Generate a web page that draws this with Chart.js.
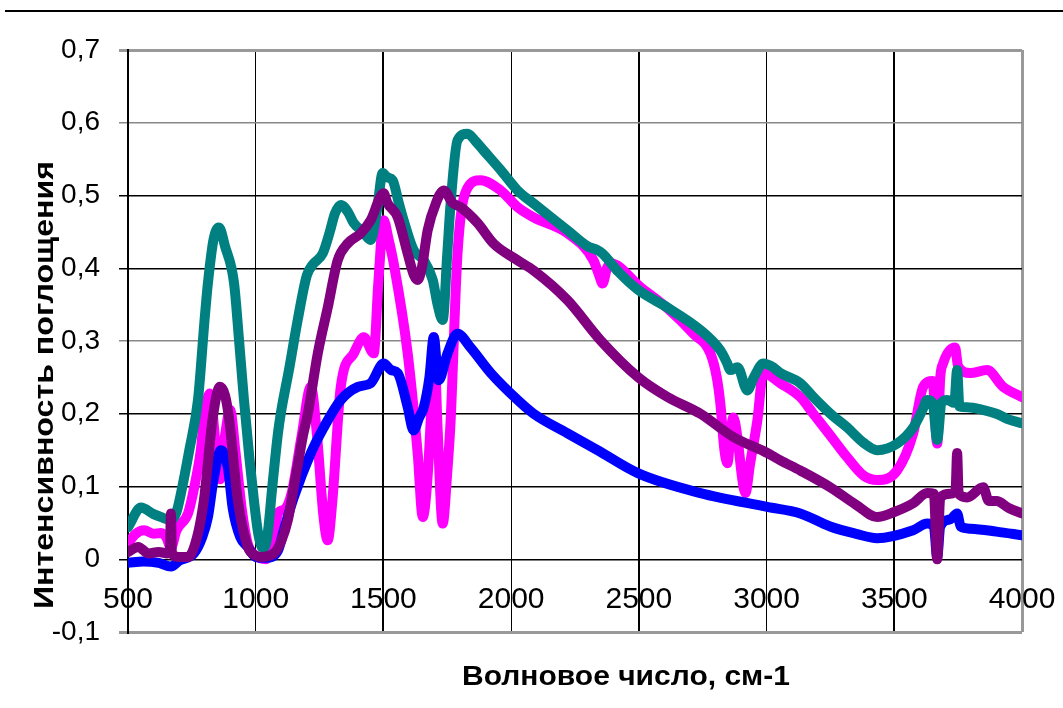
<!DOCTYPE html>
<html>
<head>
<meta charset="utf-8">
<script src="https://cdn.jsdelivr.net/npm/chart.js@4.4.0/dist/chart.umd.min.js"></script>
<style>
    html, body { margin: 0; padding: 0; background: #fff; }
    canvas { display: block; }
</style>
</head>
<body>
<canvas id="irChart" width="1063" height="708"></canvas>
<script>
// IR spectra - absorption intensity vs wavenumber

const xTickLabels = ['500', '1000', '1500', '2000', '2500', '3000', '3500', '4000'];
const yTickValues = [-0.1, 0, 0.1, 0.2, 0.3, 0.4, 0.5, 0.6, 0.7];
const xTitle = 'Волновое число, см-1';
const yTitle = 'Интенсивность поглощения';

const tealWave = [500, 551, 600, 629, 668, 690, 707, 740, 774, 800, 813, 835, 856, 880, 915, 935, 954, 975, 993, 1010, 1028, 1045, 1065, 1087, 1098, 1130, 1165, 1200, 1223, 1262, 1290, 1310, 1333, 1360, 1384, 1420, 1450, 1475, 1497, 1515, 1536, 1560, 1579, 1618, 1658, 1693, 1712, 1732, 1750, 1763, 1790, 1830, 1860, 1892, 1959, 2025, 2088, 2221, 2300, 2338, 2358, 2420, 2498, 2612, 2741, 2819, 2845, 2858, 2886, 2925, 2950, 2987, 3020, 3054, 3132, 3183, 3250, 3316, 3380, 3433, 3511, 3574, 3610, 3629, 3650, 3668, 3685, 3707, 3735, 3746, 3755, 3785, 3850, 3900, 3950, 4000];
const tealAbs = [0.044, 0.071, 0.062, 0.058, 0.054, 0.065, 0.09, 0.15, 0.219, 0.33, 0.38, 0.44, 0.456, 0.43, 0.38, 0.30, 0.219, 0.14, 0.081, 0.035, 0.015, 0.03, 0.10, 0.173, 0.20, 0.26, 0.33, 0.39, 0.405, 0.42, 0.45, 0.475, 0.487, 0.478, 0.462, 0.45, 0.439, 0.48, 0.531, 0.525, 0.521, 0.49, 0.466, 0.425, 0.411, 0.384, 0.35, 0.329, 0.42, 0.489, 0.576, 0.585, 0.575, 0.562, 0.535, 0.507, 0.489, 0.452, 0.43, 0.425, 0.42, 0.395, 0.37, 0.346, 0.315, 0.287, 0.27, 0.26, 0.264, 0.232, 0.25, 0.269, 0.265, 0.256, 0.242, 0.223, 0.20, 0.181, 0.16, 0.15, 0.159, 0.181, 0.205, 0.219, 0.215, 0.164, 0.215, 0.219, 0.215, 0.26, 0.21, 0.209, 0.205, 0.20, 0.192, 0.187];

const magentaWave = [500, 530, 563, 600, 629, 650, 668, 690, 735, 760, 785, 800, 820, 845, 860, 880, 900, 920, 945, 970, 1000, 1040, 1070, 1090, 1110, 1140, 1180, 1216, 1240, 1265, 1282, 1300, 1333, 1384, 1423, 1462, 1480, 1501, 1520, 1540, 1595, 1634, 1654, 1670, 1685, 1697, 1712, 1732, 1750, 1763, 1790, 1830, 1880, 1959, 2025, 2088, 2221, 2322, 2345, 2358, 2375, 2389, 2506, 2612, 2714, 2780, 2805, 2819, 2835, 2847, 2858, 2870, 2885, 2905, 2917, 2935, 2964, 2987, 3054, 3132, 3183, 3250, 3316, 3380, 3433, 3511, 3574, 3613, 3650, 3668, 3680, 3691, 3738, 3750, 3797, 3863, 3926, 4000];
const magentaAbs = [0.022, 0.035, 0.04, 0.035, 0.036, 0.03, 0.016, 0.04, 0.063, 0.10, 0.15, 0.20, 0.228, 0.15, 0.11, 0.17, 0.205, 0.15, 0.07, 0.02, 0.005, 0.0, 0.03, 0.065, 0.068, 0.09, 0.17, 0.237, 0.17, 0.06, 0.026, 0.08, 0.237, 0.283, 0.305, 0.283, 0.38, 0.466, 0.44, 0.407, 0.283, 0.146, 0.058, 0.10, 0.191, 0.305, 0.18, 0.049, 0.12, 0.19, 0.42, 0.511, 0.521, 0.507, 0.484, 0.47, 0.448, 0.411, 0.39, 0.379, 0.40, 0.407, 0.374, 0.345, 0.31, 0.283, 0.25, 0.214, 0.15, 0.132, 0.17, 0.195, 0.17, 0.11, 0.091, 0.13, 0.191, 0.256, 0.242, 0.223, 0.20, 0.17, 0.14, 0.115, 0.109, 0.122, 0.173, 0.237, 0.245, 0.159, 0.25, 0.269, 0.291, 0.265, 0.256, 0.26, 0.237, 0.223];

const purpleWave = [500, 540, 580, 620, 653, 664, 668, 672, 700, 735, 770, 797, 832, 860, 880, 895, 930, 969, 1000, 1020, 1071, 1100, 1126, 1149, 1165, 1185, 1204, 1243, 1282, 1321, 1360, 1411, 1450, 1501, 1515, 1556, 1595, 1620, 1634, 1650, 1673, 1705, 1736, 1770, 1802, 1869, 1931, 2025, 2088, 2221, 2350, 2498, 2612, 2741, 2870, 3003, 3054, 3132, 3249, 3350, 3433, 3500, 3574, 3629, 3655, 3668, 3680, 3720, 3740, 3746, 3752, 3785, 3848, 3870, 3900, 3950, 4000];
const purpleAbs = [0.01, 0.017, 0.008, 0.01, 0.008, 0.01, 0.063, 0.008, 0.003, 0.003, 0.03, 0.081, 0.195, 0.237, 0.225, 0.195, 0.081, 0.017, 0.005, 0.003, 0.008, 0.025, 0.054, 0.099, 0.13, 0.17, 0.20, 0.283, 0.346, 0.411, 0.434, 0.448, 0.466, 0.503, 0.49, 0.47, 0.42, 0.39, 0.384, 0.40, 0.452, 0.489, 0.507, 0.49, 0.484, 0.462, 0.434, 0.411, 0.397, 0.356, 0.301, 0.25, 0.223, 0.20, 0.168, 0.146, 0.136, 0.122, 0.099, 0.075, 0.058, 0.065, 0.077, 0.091, 0.09, 0.0, 0.085, 0.09, 0.095, 0.146, 0.09, 0.085, 0.099, 0.08, 0.08, 0.07, 0.063];

const blueWave = [500, 560, 620, 668, 700, 758, 790, 813, 835, 864, 891, 910, 940, 969, 1000, 1040, 1087, 1110, 1149, 1216, 1266, 1333, 1400, 1450, 1501, 1530, 1556, 1595, 1618, 1640, 1658, 1680, 1697, 1716, 1751, 1790, 1841, 1920, 2025, 2088, 2221, 2338, 2498, 2741, 3003, 3132, 3249, 3350, 3433, 3574, 3629, 3655, 3668, 3680, 3720, 3746, 3760, 3800, 3900, 4000];
const blueAbs = [-0.005, -0.003, -0.005, -0.01, -0.002, 0.008, 0.03, 0.058, 0.11, 0.15, 0.126, 0.07, 0.03, 0.017, 0.003, 0.002, 0.012, 0.04, 0.085, 0.146, 0.181, 0.219, 0.237, 0.242, 0.269, 0.26, 0.256, 0.209, 0.177, 0.195, 0.209, 0.25, 0.305, 0.246, 0.283, 0.31, 0.291, 0.256, 0.219, 0.20, 0.173, 0.15, 0.118, 0.091, 0.072, 0.063, 0.045, 0.035, 0.029, 0.04, 0.049, 0.045, 0.003, 0.045, 0.055, 0.063, 0.045, 0.042, 0.038, 0.033];

function toPoints(wave, abs) {
    return wave.map((w, i) => ({ x: w, y: abs[i] }));
}

function seriesStyle(color) {
    return {
        borderColor: color,
        backgroundColor: color,
        borderWidth: 10,
        pointRadius: 0,
        fill: false,
        cubicInterpolationMode: 'monotone',
        borderJoinStyle: 'round',
        borderCapStyle: 'round'
    };
}

function fmt(v) {
    const r = Math.round(v * 10) / 10;
    if (r === 0) return '0';
    return r.toFixed(1).replace('.', ',');
}

// titles, x labels on the zero line and the page rule at the top
const overlay = {
    id: 'overlay',
    afterDraw(chart) {
        const ctx = chart.ctx;
        const xs = chart.scales.x;
        const ys = chart.scales.y;
        ctx.save();

        ctx.strokeStyle = '#000';
        ctx.lineWidth = 2;
        ctx.beginPath();
        ctx.moveTo(5, 11);
        ctx.lineTo(1063, 11);
        ctx.stroke();

        const zeroY = ys.getPixelForValue(0);
        ctx.fillStyle = '#000';
        ctx.font = '30px "Liberation Sans", Arial, sans-serif';
        ctx.textAlign = 'center';
        ctx.textBaseline = 'top';
        xTickLabels.forEach(lbl => {
            ctx.fillText(lbl, xs.getPixelForValue(Number(lbl)), zeroY + 25);
        });

        ctx.font = 'bold 27px "Liberation Sans", Arial, sans-serif';
        ctx.textBaseline = 'middle';
        let w = ctx.measureText(xTitle).width;
        ctx.save();
        ctx.translate(626, 678);
        ctx.scale(328 / w, 1);
        ctx.fillText(xTitle, 0, 0);
        ctx.restore();

        w = ctx.measureText(yTitle).width;
        ctx.save();
        ctx.translate(46, 385);
        ctx.rotate(-Math.PI / 2);
        ctx.scale(448 / w, 1);
        ctx.fillText(yTitle, 0, 0);
        ctx.restore();

        ctx.restore();
    }
};

const ctx = document.getElementById('irChart');

new Chart(ctx, {
    type: 'line',
    data: {
        datasets: [
            Object.assign({ label: 'purple', data: toPoints(purpleWave, purpleAbs) }, seriesStyle('#800080')),
            Object.assign({ label: 'teal', data: toPoints(tealWave, tealAbs) }, seriesStyle('#008080')),
            Object.assign({ label: 'blue', data: toPoints(blueWave, blueAbs) }, seriesStyle('#0000ff')),
            Object.assign({ label: 'magenta', data: toPoints(magentaWave, magentaAbs) }, seriesStyle('#ff00ff'))
        ]
    },
    options: {
        responsive: false,
        animation: false,
        devicePixelRatio: 1,
        layout: {
            padding: { left: 0, right: 41, top: 50, bottom: 76 }
        },
        plugins: {
            legend: { display: false },
            tooltip: { enabled: false }
        },
        scales: {
            x: {
                type: 'linear',
                min: 500,
                max: 4000,
                ticks: { display: false, stepSize: 500 },
                border: { display: false },
                grid: {
                    drawTicks: false,
                    color: c => c.tick.value === 4000 ? '#999' : '#000',
                    lineWidth: c => {
                        const v = c.tick.value;
                        if (v === 4000) return 3;
                        if (v === 500 || v === 1500 || v === 2500 || v === 3500) return 2;
                        return 1;
                    }
                },
                afterFit: s => { s.height = 0; }
            },
            y: {
                min: -0.1,
                max: 0.7,
                afterBuildTicks: s => { s.ticks = yTickValues.map(v => ({ value: v })); },
                ticks: {
                    color: '#000',
                    padding: 19,
                    font: { family: '"Liberation Sans", Arial, sans-serif', size: 28 },
                    callback: v => fmt(v)
                },
                border: { display: true, color: '#000', width: 2 },
                grid: {
                    tickLength: 9,
                    color: c => {
                        const v = Math.round(c.tick.value * 10);
                        if (v === 7 || v === -1) return '#999';
                        if (v === 6 || v === 3) return '#888';
                        return '#000';
                    },
                    lineWidth: c => {
                        const v = Math.round(c.tick.value * 10);
                        if (v === 7 || v === -1) return 3;
                        return 1.5;
                    }
                },
                afterFit: s => { s.width = 128; }
            }
        }
    },
    plugins: [overlay]
});
</script>
</body>
</html>
